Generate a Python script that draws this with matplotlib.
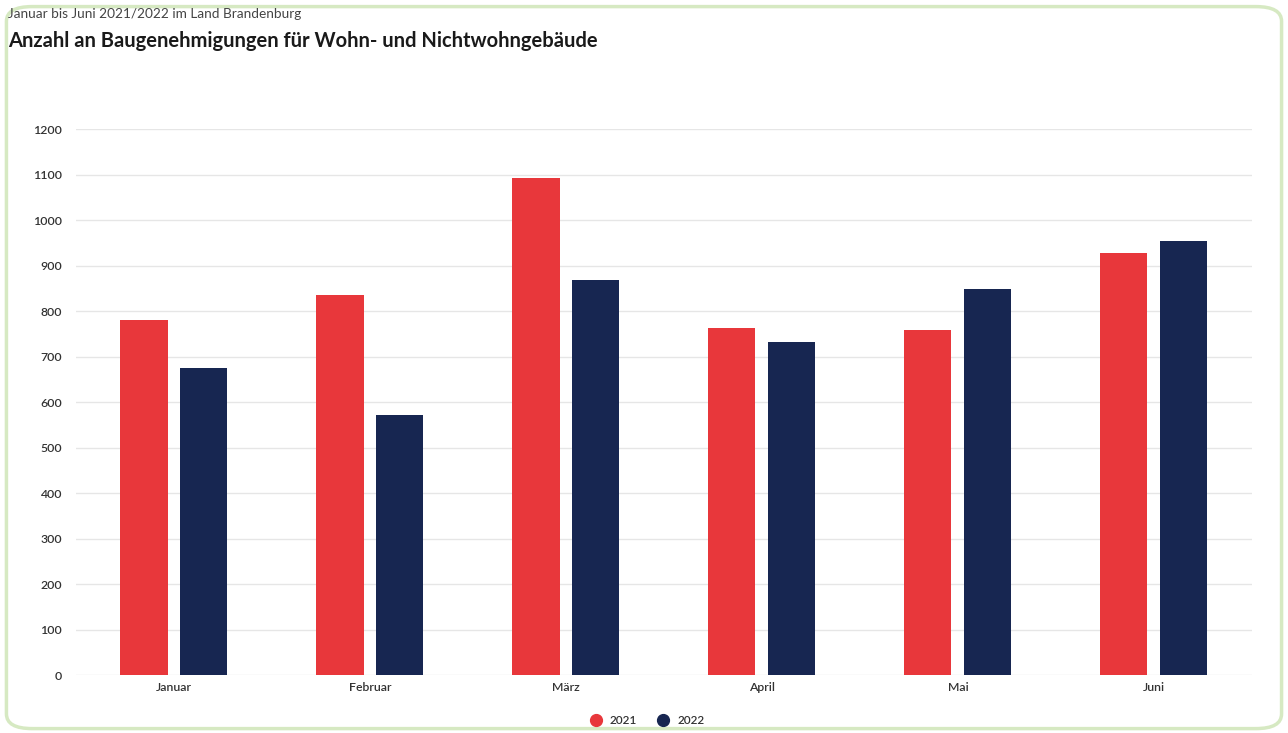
import numpy as np
import matplotlib
matplotlib.use("Agg")
import matplotlib.pyplot as plt
from matplotlib.patches import FancyBboxPatch
from matplotlib.lines import Line2D

monate = ["Januar", "Februar", "März", "April", "Mai", "Juni"]
werte_2021 = [780, 835, 1092, 763, 758, 927]
werte_2022 = [675, 571, 868, 732, 848, 954]
jahre = ["2021", "2022"]
farben = ["#e8373b", "#172651"]

plt.rcParams["font.family"] = ["Lato", "DejaVu Sans"]

fig = plt.figure(figsize=(12.88, 7.33), dpi=100)
ax = fig.add_axes([0.059, 0.079, 0.913, 0.745])

# gruener Rahmen
rahmen = FancyBboxPatch((0.005, 0.006), 0.99, 0.985,
                        boxstyle="round,pad=0,rounding_size=0.02",
                        transform=fig.transFigure, fill=False,
                        edgecolor="#d6e9c2", linewidth=2.5, zorder=0)
fig.patches.append(rahmen)

x = np.arange(len(monate))
b = 0.24
ax.bar(x - 0.153, werte_2021, b, color=farben[0], zorder=3)
ax.bar(x + 0.153, werte_2022, b, color=farben[1], zorder=3)

ax.set_xlim(-0.5, 5.5)
ax.set_ylim(0, 1200)
ax.set_yticks(range(0, 1300, 100))
ax.set_xticks(x)
ax.set_xticklabels(monate)
ax.tick_params(axis="both", length=0, labelsize=8.8, colors="#333333")
ax.tick_params(axis="y", pad=10)
ax.tick_params(axis="x", pad=5)
for lbl in ax.get_xticklabels() + ax.get_yticklabels():
    lbl.set_fontweight("semibold")
ax.grid(axis="y", color="#e6e6e6", linewidth=1, zorder=0)
for s in ax.spines.values():
    s.set_visible(False)

fig.text(0.006, 0.981, "Januar bis Juni 2021/2022 im Land Brandenburg",
         fontsize=9.8, color="#444444", va="center")
fig.text(0.006, 0.944, "Anzahl an Baugenehmigungen für Wohn- und Nichtwohngebäude",
         fontsize=14.5, fontweight="bold", color="#1a1a1a", va="center")

handles = [Line2D([], [], marker="o", linestyle="", markersize=8.5, color=c) for c in farben]
leg = fig.legend(handles, jahre, loc="center", bbox_to_anchor=(0.5, 0.017), ncol=2,
                 frameon=False, fontsize=8.5, handletextpad=0.2, columnspacing=1.2)
for t in leg.get_texts():
    t.set_fontweight("semibold")
    t.set_color("#333333")

fig.savefig("out.png", dpi=100)
